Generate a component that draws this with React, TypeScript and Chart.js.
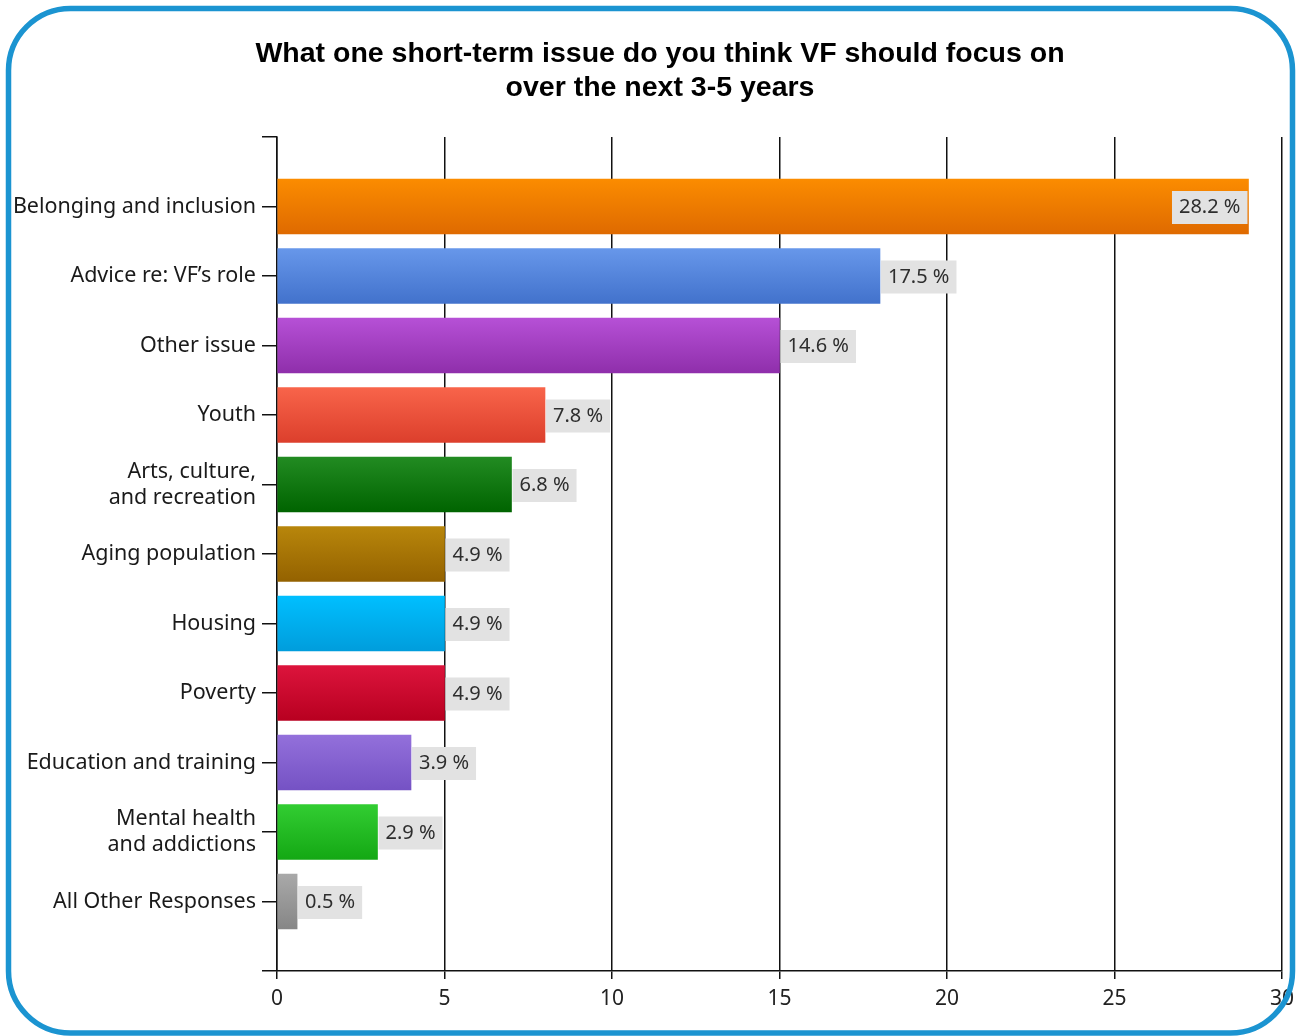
import React, { useEffect, useRef } from 'react';
import { Chart, registerables } from 'chart.js';

Chart.register(...registerables);

// Category axis: blank slots at both ends, as in the reference
const categories: (string | string[])[] = [
  '',
  'Belonging and inclusion',
  'Advice re: VF’s role',
  'Other issue',
  'Youth',
  ['Arts, culture,', 'and recreation'],
  'Aging population',
  'Housing',
  'Poverty',
  'Education and training',
  ['Mental health', 'and addictions'],
  'All Other Responses',
  '',
];

// Bar lengths as drawn on the axis
const barValues: (number | null)[] = [null, 29, 18, 15, 8, 7, 5, 5, 5, 4, 3, 0.6, null];

// Percent labels shown next to each bar
const percentLabels: (number | null)[] = [null, 28.2, 17.5, 14.6, 7.8, 6.8, 4.9, 4.9, 4.9, 3.9, 2.9, 0.5, null];

const topColors: string[] = ['#000', '#fb8c00', '#6797ea', '#b650d6', '#f8644a', '#228b22', '#b8860b', '#00bfff', '#dc143c', '#9370db', '#32cd32', '#a9a9a9', '#000'];
const bottomColors: string[] = ['#000', '#df6a00', '#4272cc', '#8f2fab', '#dc3f2c', '#006400', '#946200', '#009ddc', '#b80020', '#7552c4', '#14a814', '#868686', '#000'];

const xTicks: number[] = [0, 5, 10, 15, 20, 25, 30];

const titleLines: string[] = [
  'What one short-term issue do you think VF should focus on',
  'over the next 3-5 years',
];

const W = 1301;
const H = 1036;

export default function App() {
  const ref = useRef<HTMLCanvasElement | null>(null);

  useEffect(() => {
    const canvas = ref.current;
    if (!canvas) return;

    const decorPlugin = {
      id: 'decor',
      afterDatasetsDraw(chart: any) {
        const ctx = chart.ctx;
        const meta = chart.getDatasetMeta(0);
        const area = chart.chartArea;
        ctx.save();
        ctx.font = '20px "Noto Sans"';
        ctx.textBaseline = 'middle';
        ctx.textAlign = 'left';
        meta.data.forEach((el: any, i: number) => {
          const p = percentLabels[i];
          if (p === null || p === undefined || barValues[i] === null) return;
          if (!isFinite(el.x) || !isFinite(el.y)) return;
          const text = p.toFixed(1) + ' %';
          const tw = ctx.measureText(text).width;
          const bw = tw + 14;
          const bh = 33;
          let bx = el.x + 1;
          if (bx + bw > area.right - 2) bx = el.x - bw - 1;
          const by = el.y - bh / 2 + 1;
          ctx.fillStyle = '#e2e2e2';
          ctx.fillRect(bx, by, bw, bh);
          ctx.fillStyle = '#2e2e2e';
          ctx.fillText(text, bx + 7, el.y + 1);
        });
        ctx.restore();
      },
      afterDraw(chart: any) {
        const ctx = chart.ctx;
        ctx.save();
        ctx.fillStyle = '#000';
        ctx.font = 'bold 28.5px "Liberation Sans"';
        ctx.textAlign = 'center';
        ctx.textBaseline = 'middle';
        ctx.fillText(titleLines[0], 660, 54);
        ctx.fillText(titleLines[1], 660, 88);
        // rounded frame
        ctx.strokeStyle = '#1b94d1';
        ctx.lineWidth = 5.5;
        ctx.beginPath();
        (ctx as any).roundRect(8.5, 8.5, W - 17, H - 11.5, 62);
        ctx.stroke();
        ctx.restore();
      },
    };

    const chart = new Chart(canvas, {
      type: 'bar',
      data: {
        labels: categories as any,
        datasets: [
          {
            data: barValues as any,
            barThickness: 55,
            borderWidth: 0,
            backgroundColor: (c: any) => {
              const ch = c.chart;
              const ys = ch.scales && ch.scales.y;
              const i = c.dataIndex;
              if (!ys || i === undefined) return topColors[1];
              const cy = ys.getPixelForValue(i);
              if (!isFinite(cy)) return topColors[i] || topColors[1];
              const g = ch.ctx.createLinearGradient(0, cy - 27.5, 0, cy + 27.5);
              g.addColorStop(0, topColors[i]);
              g.addColorStop(1, bottomColors[i]);
              return g;
            },
          },
        ],
      },
      options: {
        indexAxis: 'y',
        responsive: false,
        animation: false,
        layout: { padding: { top: 137, right: 18, left: 0, bottom: 0 } },
        plugins: {
          legend: { display: false },
          title: { display: false },
          tooltip: { enabled: false },
        },
        scales: {
          x: {
            type: 'linear',
            min: 0,
            max: 30,
            afterBuildTicks: (s: any) => {
              s.ticks = xTicks.map((v) => ({ value: v }));
            },
            afterFit: (s: any) => {
              s.height = 65;
            },
            grid: {
              color: '#111',
              lineWidth: 1.5,
              tickLength: 8,
              drawOnChartArea: true,
              drawTicks: true,
            },
            border: { display: true, color: '#111', width: 1.5 },
            ticks: {
              color: '#222',
              font: { family: '"Noto Sans"', size: 21 },
              padding: 7,
            },
          },
          y: {
            type: 'category',
            offset: false,
            afterFit: (s: any) => {
              s.width = 277;
            },
            grid: {
              offset: false,
              drawOnChartArea: false,
              drawTicks: true,
              tickLength: 15,
              color: '#111',
              lineWidth: 1.5,
            },
            border: { display: true, color: '#111', width: 1.5 },
            ticks: {
              color: '#1a1a1a',
              font: { family: '"Noto Sans"', size: 21.5, lineHeight: 1.2 },
              padding: 6,
              autoSkip: false,
            },
          },
        },
      },
      plugins: [decorPlugin],
    });

    return () => chart.destroy();
  }, []);

  return (
    <div style={{ position: 'absolute', left: 0, top: 0, width: W, height: H, background: '#fff' }}>
      <canvas ref={ref} width={W} height={H} style={{ width: W, height: H, display: 'block' }} />
    </div>
  );
}
